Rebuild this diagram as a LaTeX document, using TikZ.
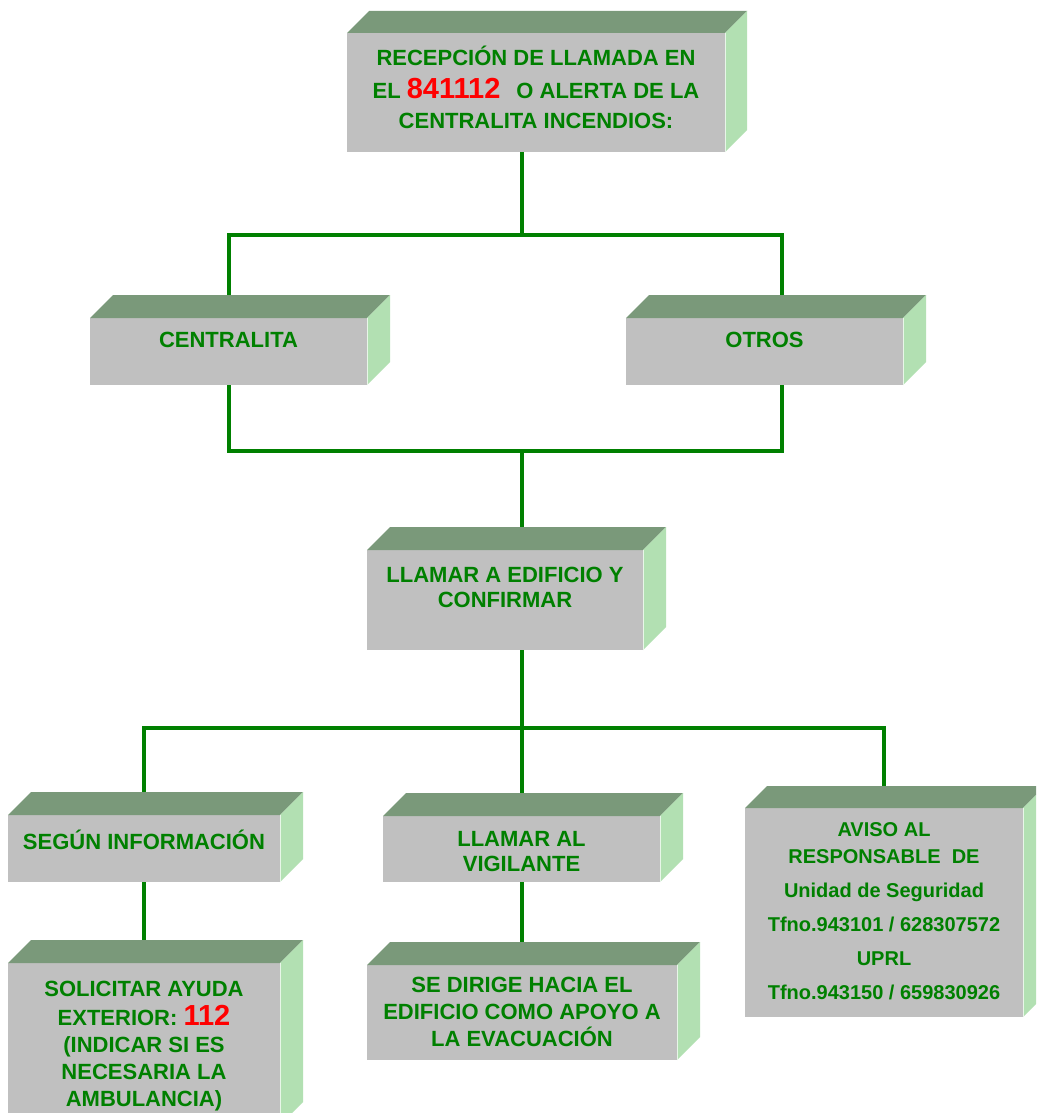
\documentclass[tikz,border=0pt]{standalone}
\usepackage{fontspec}
\setmainfont{Liberation Sans}
\usetikzlibrary{backgrounds}
\definecolor{txtgreen}{RGB}{0,128,0}
\definecolor{facegray}{RGB}{192,192,192}
\definecolor{facetop}{RGB}{122,153,122}
\definecolor{faceside}{RGB}{178,224,178}
\definecolor{linegreen}{RGB}{0,128,0}
\definecolor{numred}{RGB}{255,0,0}
\newcommand\rednum[1]{{\fontsize{29}{29}\selectfont\color{numred}#1}}
\newcommand\tdbox[6]{%
  \node[frontface, minimum width={#4pt-#2pt}, minimum height={#5pt-#3pt}] (#1) at ({(#2+#4)/2},{(#3+#5)/2}) {};
  \fill[facetop] (#1.north west) -- ++(#6,-#6) -- ([shift={(#6,-#6)}]#1.north east) -- (#1.north east) -- cycle;
  \fill[faceside] (#1.north east) -- ++(#6,-#6) -- ([shift={(#6,-#6)}]#1.south east) -- (#1.south east) -- cycle;
  \draw[white!70!faceside, line width=1pt] ([xshift=0.5pt]#1.north east) -- ([xshift=0.5pt]#1.south east);
}
\tikzset{
  frontface/.style={fill=facegray, draw=none, inner sep=0pt, outer sep=0pt},
  lbl/.style={align=center, inner sep=0pt, text=txtgreen, font=\fontsize{22}{25}\selectfont\bfseries},
  conn/.style={draw=linegreen, line width=4pt},
}
\begin{document}
\begin{tikzpicture}[x=1pt,y=-1pt]
\useasboundingbox (0,0) rectangle (1036,1113);
\clip (0,0) rectangle (1036,1113);

\tdbox{top}{347}{33}{725}{152}{22}
\tdbox{cen}{90}{318}{367}{385}{23}
\tdbox{otr}{626}{318}{903}{385}{23}
\tdbox{edi}{367}{550}{643}{650}{23}
\tdbox{seg}{8}{815}{280}{882}{23}
\tdbox{vig}{383}{816}{660}{882}{23}
\tdbox{avi}{745}{808}{1023}{1017}{22}
\tdbox{sol}{8}{963}{280}{1125}{23}
\tdbox{sed}{367}{965}{677}{1060}{23}

\coordinate (j1) at (522,235);
\coordinate (j2) at (522,451);
\coordinate (j3) at (522,728);

\begin{scope}[on background layer]
\fill[white] (0,0) rectangle (1036,1113);
\draw[conn] (top.south -| j1) -- (j1);
\draw[conn] (cen.north) |- (j1) -| ([xshift=17.5pt]otr.north);
\draw[conn] (cen.south) |- (j2) -| ([xshift=17.5pt]otr.south);
\draw[conn] (j2) -- (edi.north -| j2);
\draw[conn] (edi.south -| j3) -- (j3);
\draw[conn] (seg.north) |- (j3) -| (avi.north);
\draw[conn] (j3) -- (vig.north -| j3);
\draw[conn] (seg.south) -- (sol.north);
\draw[conn] (vig.south -| j3) -- (sed.north -| j3);
\end{scope}

\node[lbl, font=\fontsize{22}{30}\selectfont\bfseries] (topT) at (536,87) {RECEPCIÓN DE LLAMADA EN\\[3pt]EL \rednum{841112}\hspace{16pt}O ALERTA DE LA\\CENTRALITA INCENDIOS:};
\node[lbl] (cenT) at (228.5,340) {CENTRALITA};
\node[lbl] (otrT) at (764.5,340) {OTROS};
\node[lbl] (ediT) at (505,587) {LLAMAR A EDIFICIO Y\\CONFIRMAR};
\node[lbl] (segT) at (144,840) {SEGÚN INFORMACIÓN};
\node[lbl] (vigT) at (521.5,852) {LLAMAR AL\\VIGILANTE};
\node[lbl, font=\fontsize{20}{27}\selectfont\bfseries] (aviT) at (884,911) {AVISO AL\\RESPONSABLE\ \ DE\\[7pt]Unidad de Seguridad\\[7pt]Tfno.943101 / 628307572\\[7pt]UPRL\\[7pt]Tfno.943150 / 659830926};
\node[lbl, font=\fontsize{22}{27}\selectfont\bfseries] (solT) at (144,1046) {SOLICITAR AYUDA\\[2pt]EXTERIOR: \rednum{112}\\(INDICAR SI ES\\NECESARIA LA\\AMBULANCIA)};
\node[lbl, font=\fontsize{22}{27}\selectfont\bfseries] (sedT) at (522,1012) {SE DIRIGE HACIA EL\\EDIFICIO COMO APOYO A\\LA EVACUACIÓN};
\end{tikzpicture}
\end{document}
